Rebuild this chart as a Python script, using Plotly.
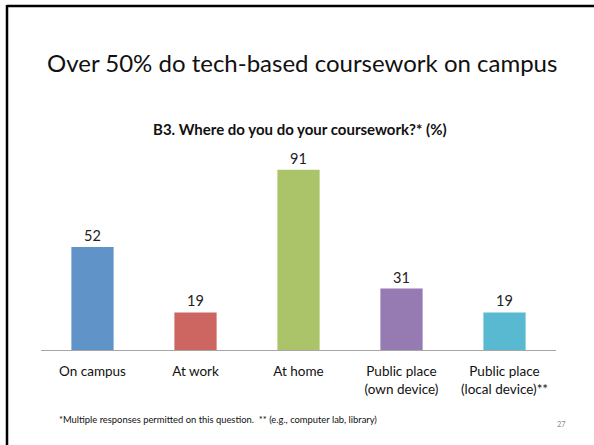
import plotly.graph_objects as go

# Survey results: where students do their coursework (% of respondents)
categories = ["On campus", "At work", "At home", "Public place<br>(own device)", "Public place<br>(local device)**"]
values = [52, 19, 91, 31, 19]
bar_colors = ["#6094C8", "#CD6660", "#ABC46A", "#957BB1", "#58B9D0"]

W, H = 594, 445
FONT = "Lato"


def px_x(x):
    return x / W


def px_y(y):
    return 1 - y / H


fig = go.Figure(
    go.Bar(
        x=categories,
        y=values,
        marker=dict(color=bar_colors, line=dict(width=0)),
        text=[str(v) for v in values],
        textposition="outside",
        textfont=dict(family=FONT, size=14.5, color="#222222"),
        cliponaxis=False,
        hoverinfo="skip",
    )
)

fig.update_layout(
    width=W,
    height=H,
    margin=dict(l=0, r=0, t=0, b=0),
    paper_bgcolor="white",
    plot_bgcolor="white",
    showlegend=False,
    bargap=0.59,
    font=dict(family=FONT, color="#111111"),
    xaxis=dict(
        domain=[px_x(41), px_x(556)],
        showgrid=False,
        showline=True,
        linecolor="#A6A6A6",
        linewidth=1,
        ticks="",
        tickfont=dict(family=FONT, size=13.5, color="#111111"),
        ticklabelstandoff=9,
        fixedrange=True,
    ),
    yaxis=dict(
        domain=[px_y(350), px_y(152)],
        range=[0, 100],
        visible=False,
        fixedrange=True,
    ),
    shapes=[
        # slide frame edges
        dict(type="line", xref="paper", yref="paper", x0=px_x(7), x1=1.0, y0=px_y(6), y1=px_y(6),
             line=dict(color="black", width=2.5)),
        dict(type="line", xref="paper", yref="paper", x0=px_x(7), x1=px_x(7), y0=0, y1=px_y(5),
             line=dict(color="black", width=2.5)),
    ],
    annotations=[
        dict(text="Over 50% do tech-based coursework on campus", xref="paper", yref="paper",
             x=px_x(302), y=px_y(63), xanchor="center", yanchor="middle", showarrow=False,
             font=dict(family=FONT, size=24, color="#111111")),
        dict(text="<b>B3. Where do you do your coursework?* (%)</b>", xref="paper", yref="paper",
             x=px_x(300), y=px_y(129), xanchor="center", yanchor="middle", showarrow=False,
             font=dict(family=FONT, size=15, color="#111111")),
        dict(text="*Multiple responses permitted on this question.  ** (e.g., computer lab, library)",
             xref="paper", yref="paper", x=px_x(57), y=px_y(419), xanchor="left", yanchor="middle",
             showarrow=False, font=dict(family=FONT, size=9.4, color="#111111")),
        dict(text="27", xref="paper", yref="paper", x=px_x(568), y=px_y(424), xanchor="right",
             yanchor="middle", showarrow=False, font=dict(family=FONT, size=7.5, color="#8C8C8C")),
    ],
)

fig.write_html("out.html")
